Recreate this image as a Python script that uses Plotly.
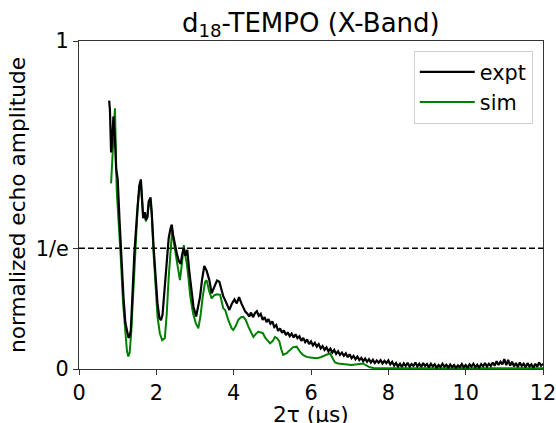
import math
import plotly.graph_objects as go

# ---------------- data ----------------
expt_x = [0.78, 0.80, 0.83, 0.86, 0.89, 0.93, 0.96, 1.00, 1.05, 1.10, 1.15, 1.20, 1.25, 1.28, 1.31, 1.34,
          1.38, 1.43, 1.50, 1.56, 1.60, 1.63, 1.66, 1.70, 1.73, 1.77, 1.80, 1.85, 1.88, 1.93, 1.98, 2.03,
          2.08, 2.12, 2.16, 2.20, 2.26, 2.32, 2.37, 2.40, 2.43, 2.47, 2.50, 2.53, 2.58, 2.63, 2.67, 2.71,
          2.75, 2.80, 2.85, 2.90, 2.96, 3.03, 3.08, 3.13, 3.18, 3.24, 3.30, 3.37, 3.43, 3.50, 3.57, 3.63,
          3.68, 3.73, 3.78, 3.84, 3.89, 3.95, 4.02, 4.08, 4.14, 4.20, 4.25, 4.30, 4.36,
          4.40, 4.45, 4.50, 4.55, 4.60, 4.65, 4.70, 4.75, 4.80, 4.85, 4.90, 4.95, 5.00, 5.05, 5.10, 5.15,
          5.20, 5.25, 5.30, 5.35, 5.40, 5.45, 5.50, 5.55, 5.60, 5.65, 5.70, 5.75, 5.80, 5.85, 5.90, 5.95,
          6.00, 6.05, 6.10, 6.15, 6.20, 6.25, 6.30, 6.35, 6.40, 6.45, 6.50, 6.55, 6.60, 6.65, 6.70, 6.75,
          6.80, 6.85, 6.90, 6.95, 7.00, 7.05, 7.10, 7.15, 7.20, 7.25, 7.30, 7.35, 7.40, 7.45, 7.50, 7.55,
          7.60, 7.65, 7.70, 7.75, 7.80, 7.85, 7.90, 7.95, 8.00, 8.05, 8.10, 8.15, 8.20, 8.25, 8.30, 8.35,
          8.40, 8.45, 8.50, 8.55, 8.60, 8.65, 8.70, 8.75, 8.80, 8.85, 8.90, 8.95, 9.00, 9.05, 9.10, 9.15,
          9.20, 9.25, 9.30, 9.35, 9.40, 9.45, 9.50, 9.55, 9.60, 9.65, 9.70, 9.75, 9.80, 9.85, 9.90, 9.95,
          10.00, 10.05, 10.10, 10.15, 10.20, 10.25, 10.30, 10.35, 10.40, 10.45, 10.50, 10.55, 10.60, 10.65,
          10.70, 10.75, 10.80, 10.85, 10.90, 10.95, 11.00, 11.05, 11.10, 11.15, 11.20, 11.25, 11.30, 11.35,
          11.40, 11.45, 11.50, 11.55, 11.60, 11.65, 11.70, 11.75, 11.80, 11.85, 11.90, 11.95, 12.00]
expt_y = [0.818, 0.790, 0.660, 0.700, 0.770, 0.700, 0.610, 0.580, 0.450, 0.330, 0.220, 0.140, 0.105, 0.095, 0.100, 0.118,
          0.220, 0.350, 0.470, 0.560, 0.578, 0.520, 0.460, 0.478, 0.455, 0.462, 0.510, 0.523, 0.480, 0.370, 0.270, 0.200,
          0.155, 0.149, 0.165, 0.220, 0.320, 0.400, 0.430, 0.440, 0.410, 0.385, 0.370, 0.352, 0.330, 0.320, 0.350, 0.370,
          0.345, 0.363, 0.300, 0.240, 0.190, 0.160, 0.190, 0.220, 0.270, 0.314, 0.300, 0.271, 0.231, 0.252, 0.270, 0.266,
          0.240, 0.222, 0.210, 0.192, 0.180, 0.198, 0.212, 0.200, 0.219, 0.200, 0.188, 0.175, 0.168,
          0.160, 0.172, 0.158, 0.170, 0.176, 0.162, 0.168, 0.150, 0.158, 0.143, 0.152, 0.138, 0.145, 0.128, 0.134, 0.116,
          0.124, 0.110, 0.118, 0.103, 0.112, 0.100, 0.108, 0.096, 0.106, 0.094, 0.100, 0.086, 0.095, 0.082, 0.090, 0.076,
          0.084, 0.072, 0.080, 0.068, 0.076, 0.063, 0.070, 0.058, 0.066, 0.054, 0.062, 0.050, 0.058, 0.046, 0.054, 0.043,
          0.050, 0.040, 0.048, 0.036, 0.045, 0.033, 0.040, 0.030, 0.038, 0.027, 0.034, 0.024, 0.032, 0.022, 0.030, 0.020,
          0.028, 0.018, 0.026, 0.019, 0.027, 0.017, 0.025, 0.018, 0.026, 0.014, 0.022, 0.010, 0.018, 0.008, 0.016, 0.006,
          0.017, 0.009, 0.019, 0.007, 0.015, 0.010, 0.020, 0.008, 0.016, 0.006, 0.018, 0.009, 0.015, 0.005, 0.016, 0.008,
          0.014, 0.004, 0.012, 0.006, 0.016, 0.007, 0.013, 0.004, 0.014, 0.006, 0.012, 0.003, 0.011, 0.006, 0.015, 0.005,
          0.012, 0.004, 0.014, 0.007, 0.016, 0.006, 0.013, 0.004, 0.015, 0.008, 0.018, 0.007, 0.016, 0.009,
          0.020, 0.010, 0.024, 0.012, 0.022, 0.014, 0.030, 0.012, 0.028, 0.010, 0.022, 0.008, 0.018, 0.006,
          0.020, 0.009, 0.016, 0.005, 0.018, 0.008, 0.014, 0.004, 0.016, 0.007, 0.020, 0.010, 0.016]

sim_x = [0.83, 0.85, 0.88, 0.93, 0.975, 1.02, 1.08, 1.14, 1.20, 1.24, 1.275, 1.31, 1.35, 1.40, 1.46, 1.52,
         1.57, 1.60, 1.63, 1.66, 1.70, 1.73, 1.77, 1.80, 1.85, 1.88, 1.93, 1.98, 2.03, 2.09, 2.15, 2.22,
         2.27, 2.32, 2.37, 2.41, 2.46, 2.53, 2.61, 2.66, 2.71, 2.74, 2.78, 2.82, 2.88, 2.95, 3.02, 3.085,
         3.14, 3.20, 3.26, 3.30, 3.36, 3.43, 3.50, 3.57, 3.65, 3.73, 3.78, 3.86, 3.95, 3.99, 4.05, 4.12,
         4.19, 4.25, 4.31, 4.38, 4.45, 4.51, 4.58, 4.64, 4.68, 4.75, 4.82, 4.88, 4.94, 5.01, 5.07, 5.12,
         5.18, 5.23, 5.28, 5.37, 5.45, 5.53, 5.63, 5.72, 5.80, 5.89, 5.98, 6.06, 6.15, 6.25, 6.35, 6.43,
         6.49, 6.55, 6.62, 6.70, 6.80, 6.92, 7.05, 7.15, 7.27, 7.35, 7.44, 7.52, 7.62, 7.75, 7.90, 8.05,
         8.25, 8.60, 9.00, 9.40, 9.80, 10.20, 10.60, 11.00, 11.50, 12.00]
sim_y = [0.566, 0.620, 0.700, 0.795, 0.546, 0.470, 0.340, 0.200, 0.100, 0.055, 0.038, 0.050, 0.110, 0.230, 0.380, 0.500,
         0.560, 0.570, 0.515, 0.462, 0.475, 0.450, 0.470, 0.495, 0.512, 0.470, 0.350, 0.240, 0.160, 0.109, 0.088, 0.094,
         0.170, 0.280, 0.370, 0.425, 0.380, 0.332, 0.271, 0.320, 0.378, 0.350, 0.327, 0.290, 0.220, 0.170, 0.140, 0.124,
         0.160, 0.220, 0.265, 0.271, 0.240, 0.215, 0.225, 0.228, 0.226, 0.185, 0.180, 0.150, 0.124, 0.119, 0.130, 0.150,
         0.158, 0.159, 0.150, 0.129, 0.112, 0.098, 0.108, 0.114, 0.112, 0.110, 0.095, 0.088, 0.078, 0.085, 0.098, 0.094,
         0.085, 0.060, 0.043, 0.048, 0.058, 0.066, 0.068, 0.052, 0.042, 0.037, 0.035, 0.034, 0.033, 0.036, 0.042, 0.046,
         0.048, 0.035, 0.020, 0.017, 0.015, 0.013, 0.012, 0.014, 0.017, 0.017, 0.010, 0.005, 0.003, 0.003, 0.002, 0.002,
         0.002, 0.002, 0.002, 0.002, 0.002, 0.002, 0.002, 0.002, 0.002, 0.002]

y_tick_vals = [0, 1 / math.e, 1]
y_tick_text = ["0", "1/e", "1"]
x_tick_vals = [0, 2, 4, 6, 8, 10, 12]

FONT = "DejaVu Sans"

fig = go.Figure()
fig.add_trace(go.Scatter(x=sim_x, y=sim_y, mode="lines", name="sim",
                         line=dict(color="#008000", width=2), legendrank=2))
fig.add_trace(go.Scatter(x=expt_x, y=expt_y, mode="lines", name="expt",
                         line=dict(color="black", width=2.2), legendrank=1))

fig.add_shape(type="line", xref="paper", x0=0, x1=1, yref="y", y0=1 / math.e, y1=1 / math.e,
              line=dict(color="black", width=1.5, dash="6px,3px"), layer="below")

# x-axis title placed as a text annotation below the tick labels
fig.add_annotation(text="2τ (μs)", xref="paper", x=0.5, xanchor="center",
                   yref="paper", y=-0.14, yanchor="middle", showarrow=False,
                   font=dict(size=21.7, family=FONT, color="black"))

fig.update_layout(
    template=None,
    width=556, height=423,
    margin=dict(l=79, r=13, t=41, b=54, autoexpand=False),
    paper_bgcolor="white", plot_bgcolor="white",
    font=dict(family=FONT, size=20.8, color="black"),
    title=dict(text="d<sub>18</sub>-TEMPO (X-Band)", font=dict(size=26, family=FONT, color="black"),
               x=0.559, xanchor="center", xref="container", y=0.946, yanchor="middle", yref="container"),
    showlegend=True,
    legend=dict(x=0.978, xanchor="right", y=0.97, yanchor="top",
                bordercolor="#d0d0d0", borderwidth=1, bgcolor="rgba(255,255,255,0.8)",
                font=dict(size=20.8, family=FONT), traceorder="normal",
                tracegroupgap=4, itemwidth=55),
    xaxis=dict(range=[0, 12], tickvals=x_tick_vals, ticks="outside", ticklen=5, tickwidth=1,
               tickcolor="#333", showline=True, linecolor="#333", linewidth=1, mirror=True,
               showgrid=False, zeroline=False, automargin=False, ticklabeloverflow="allow"),
    yaxis=dict(range=[0, 1], tickvals=y_tick_vals, ticktext=y_tick_text, ticks="outside", ticklen=5,
               tickwidth=1, tickcolor="#333", showline=True, linecolor="#333", linewidth=1, mirror=True,
               showgrid=False, zeroline=False, automargin=False,
               title=dict(text="normalized echo amplitude", standoff=4, font=dict(size=21.7, family=FONT))),
)

fig.write_html("out.html")
